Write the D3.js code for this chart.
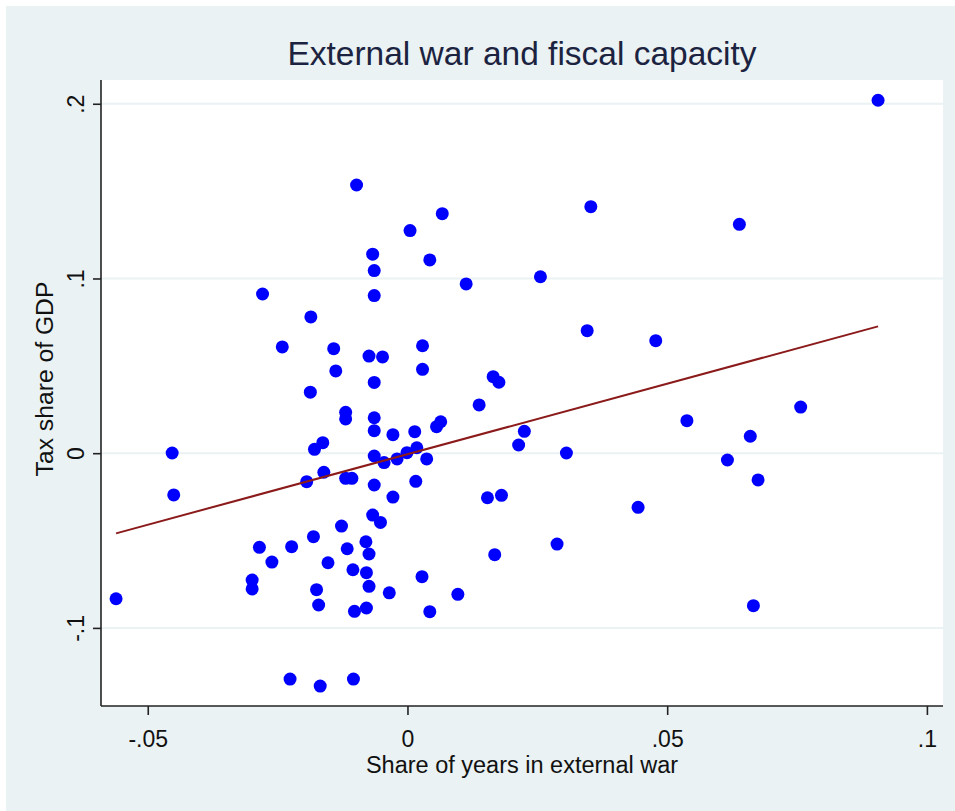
<!DOCTYPE html>
<html>
<head>
<meta charset="utf-8">
<script src="https://cdn.jsdelivr.net/npm/d3@7"></script>
<style>
  body { margin: 0; background: #ffffff; }
  svg { display: block; }
  text { font-family: "Liberation Sans", Arial, sans-serif; }
</style>
</head>
<body>
<script>
(function () {

// share of years in external war (x) and tax share of GDP (y), one entry per country
var warShare = [
  -0.0098, 0.0005, -0.0067, -0.0064, -0.0279, -0.0064, -0.0186, -0.0241, -0.0142, -0.0074,
  -0.0048, -0.0138, -0.0064, -0.0187, 0.0067, 0.0353, 0.0043, 0.0113, 0.0256, 0.0346,
  0.0029, 0.0029, 0.0165, 0.0176, 0.0138, 0.0906, 0.0639, 0.0478, -0.0119, -0.0119,
  -0.0064, -0.0064, -0.0028, -0.0453, -0.0179, -0.0163, -0.0064, -0.0045, -0.0020, -0.0001,
  -0.0161, -0.0194, -0.0119, -0.0107, -0.0064, -0.0028, -0.0450, -0.0067, -0.0052, -0.0127,
  -0.0181, -0.0285, -0.0223, -0.0116, -0.0080, -0.0074, -0.0261, -0.0153, -0.0105, -0.0079,
  -0.0074, -0.0299, -0.0299, -0.0175, -0.0035, -0.0561, -0.0171, -0.0102, -0.0079, -0.0226,
  -0.0168, -0.0104, 0.0014, 0.0056, 0.0064, 0.0225, 0.0214, 0.0306, 0.0018, 0.0037,
  0.0016, 0.0154, 0.0181, 0.0444, 0.0168, 0.0288, 0.0028, 0.0097, 0.0043, 0.0538,
  0.0757, 0.0660, 0.0616, 0.0675, 0.0666
]
var taxShare = [
  0.1535, 0.1274, 0.1139, 0.1045, 0.0911, 0.0902, 0.0780, 0.0608, 0.0598, 0.0556,
  0.0551, 0.0471, 0.0405, 0.0349, 0.1371, 0.1411, 0.1106, 0.0969, 0.1010, 0.0701,
  0.0615, 0.0480, 0.0438, 0.0406, 0.0276, 0.2020, 0.1310, 0.0644, 0.0234, 0.0196,
  0.0203, 0.0129, 0.0106, 0.0001, 0.0022, 0.0060, -0.0016, -0.0054, -0.0033, 0.0003,
  -0.0109, -0.0163, -0.0144, -0.0144, -0.0182, -0.0251, -0.0239, -0.0354, -0.0396, -0.0417,
  -0.0478, -0.0539, -0.0535, -0.0547, -0.0507, -0.0577, -0.0623, -0.0627, -0.0667, -0.0684,
  -0.0762, -0.0726, -0.0777, -0.0781, -0.0799, -0.0833, -0.0869, -0.0905, -0.0886, -0.1293,
  -0.1333, -0.1293, 0.0123, 0.0152, 0.0180, 0.0125, 0.0047, 0.0001, 0.0031, -0.0033,
  -0.0161, -0.0255, -0.0241, -0.0310, -0.0581, -0.0520, -0.0707, -0.0808, -0.0907, 0.0186,
  0.0264, 0.0097, -0.0039, -0.0153, -0.0873
]
var xTicks = [-0.05, 0, 0.05, 0.1]
var yTicks = [-0.1, 0, 0.1, 0.2]

var width = 955,
height = 811,
left = 101,
right = 943,
top = 80,
bottom = 706;

function fmt(v) {
  if (v === 0) return "0"
  return String(v).replace("0.", ".")
}

var svg = d3.select("body")
  .append("svg")
  .attr("width", width)
  .attr("height", height)

// graph background
svg.append("rect")
  .attr("x", 6)
  .attr("y", 6)
  .attr("width", width - 6)
  .attr("height", height - 6)
  .attr("fill", "#eaf2f3")

// plot region
svg.append("rect")
  .attr("x", left)
  .attr("y", top)
  .attr("width", right - left)
  .attr("height", bottom - top)
  .attr("fill", "#ffffff")

var x = d3.scaleLinear().domain([-0.059, 0.1031]).range([left, right])
var y = d3.scaleLinear().domain([-0.1447, 0.2136]).range([bottom, top])

// horizontal grid
svg.selectAll(".grid")
  .data(yTicks)
  .enter().append("line")
  .attr("class", "grid")
  .attr("x1", left)
  .attr("x2", right)
  .attr("y1", function(d) { return y(d) })
  .attr("y2", function(d) { return y(d) })
  .attr("stroke", "#eaf2f3")
  .attr("stroke-width", 2)

// linear fit, from min x to max x
var points = warShare.map(function(d, i) { return { x: d, y: taxShare[i] } })
var mx = d3.mean(points, function(d) { return d.x }),
my = d3.mean(points, function(d) { return d.y });
var sxy = d3.sum(points, function(d) { return (d.x - mx) * (d.y - my) }),
sxx = d3.sum(points, function(d) { return (d.x - mx) * (d.x - mx) });
var slope = sxy / sxx,
intercept = my - slope * mx;
var ext = d3.extent(warShare)

svg.selectAll(".dot")
  .data(points)
  .enter().append("circle")
  .attr("class", "dot")
  .attr("cx", function(d) { return x(d.x) })
  .attr("cy", function(d) { return y(d.y) })
  .attr("r", 6.5)
  .attr("fill", "#0000ff")

svg.append("line")
  .attr("x1", x(ext[0]))
  .attr("x2", x(ext[1]))
  .attr("y1", y(intercept + slope * ext[0]))
  .attr("y2", y(intercept + slope * ext[1]))
  .attr("stroke", "#8b1a1a")
  .attr("stroke-width", 2)

// axes
var xAxis = d3.axisBottom(x).tickValues(xTicks).tickSize(9).tickFormat(fmt)
var yAxis = d3.axisLeft(y).tickValues(yTicks).tickSize(8).tickFormat(fmt)

var gx = svg.append("g")
  .attr("transform", "translate(0 " + bottom + ")")
  .call(xAxis)
gx.select(".domain").attr("d", "M" + left + ",0H" + right).attr("stroke", "#222").attr("stroke-width", 1.6)
gx.selectAll(".tick line").attr("stroke", "#222").attr("stroke-width", 1.6)
gx.selectAll(".tick text")
  .attr("y", 41)
  .attr("dy", 0)
  .attr("font-size", 23)
  .attr("fill", "#111")

var gy = svg.append("g")
  .attr("transform", "translate(" + left + " 0)")
  .call(yAxis)
gy.select(".domain").attr("d", "M0," + top + "V" + bottom).attr("stroke", "#222").attr("stroke-width", 1.6)
gy.selectAll(".tick line").attr("stroke", "#222").attr("stroke-width", 1.6)
gy.selectAll(".tick text")
  .attr("x", 0)
  .attr("dy", 0)
  .attr("transform", "translate(-17 0) rotate(-90)")
  .attr("text-anchor", "middle")
  .attr("font-size", 23)
  .attr("fill", "#111")

// titles
svg.append("text")
  .text("External war and fiscal capacity")
  .attr("x", (left + right) / 2)
  .attr("y", 65)
  .attr("text-anchor", "middle")
  .attr("font-size", 33.5)
  .attr("fill", "#1c2340")

svg.append("text")
  .text("Share of years in external war")
  .attr("x", (left + right) / 2)
  .attr("y", 773)
  .attr("text-anchor", "middle")
  .attr("font-size", 23.5)
  .attr("fill", "#111")

svg.append("text")
  .text("Tax share of GDP")
  .attr("transform", "translate(53 379) rotate(-90)")
  .attr("text-anchor", "middle")
  .attr("font-size", 24.7)
  .attr("fill", "#111")

}())
</script>
</body>
</html>
